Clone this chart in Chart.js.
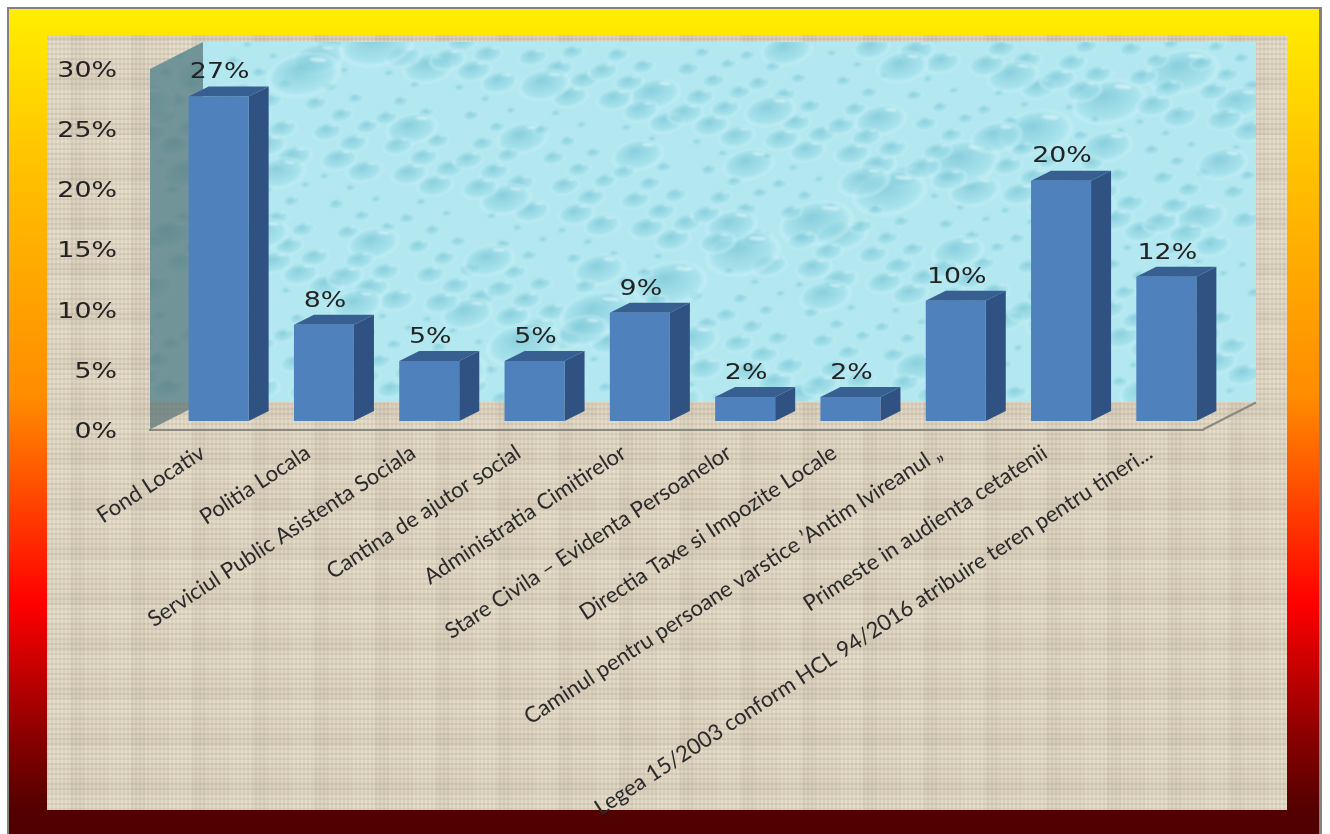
<!DOCTYPE html>
<html>
<head>
<meta charset="utf-8">
<title>Chart</title>
<script src="https://cdn.jsdelivr.net/npm/chart.js@4"></script>
<style>
  html, body { margin: 0; padding: 0; background: #fff; overflow: hidden; }
  #frame {
    position: absolute; left: 7px; top: 7px; width: 1315px; height: 827px;
    border: solid #85817c; border-width: 2px 3px 0 2px; box-sizing: border-box;
    background: linear-gradient(to bottom, #ffee00 0, #ffc000 20%, #ff8c00 47%, #ff0000 72%, #8c0000 88%, #540000 97%, #500000 100%);
  }
  #panel {
    position: absolute; left: 47px; top: 35px; width: 1240px; height: 775px;
    background-color: #e0d6c3;
    background-image:
      repeating-linear-gradient(90deg, rgba(120,110,90,.09) 0 2px, transparent 2px 4px),
      repeating-linear-gradient(0deg, rgba(120,110,90,.11) 0 2px, transparent 2px 5px),
      repeating-linear-gradient(90deg, rgba(255,250,235,.10) 0 23px, rgba(110,100,85,.04) 23px 37px, transparent 37px 61px),
      repeating-linear-gradient(0deg, rgba(255,250,235,.10) 0 17px, rgba(110,100,85,.04) 17px 29px, transparent 29px 47px);
  }
  #myChart { position: absolute; left: 0; top: 0; }
</style>
</head>
<body>
<div id="frame"></div>
<div id="panel"></div>
<canvas id="myChart" width="1330" height="834"></canvas>
<script>
const categorii = [
  "Fond Locativ",
  "Politia Locala",
  "Serviciul Public Asistenta Sociala",
  "Cantina de ajutor social",
  "Administratia Cimitirelor",
  "Stare Civila – Evidenta Persoanelor",
  "Directia Taxe si Impozite Locale",
  "Caminul pentru persoane varstice ’Antim Ivireanul „",
  "Primeste in audienta cetatenii",
  "Legea 15/2003 conform HCL 94/2016 atribuire teren pentru tineri...",
];
const valori = [27, 8, 5, 5, 9, 2, 2, 10, 20, 12];
const tickuriY = [0, 5, 10, 15, 20, 25, 30];

// adancimea podelei si a coloanelor, in pixeli
const podea = { dx: 53, dy: -27 };
const adancime = { dx: 20, dy: -10 };
const mutare = { dx: 16, dy: -8.5 };
// textul valorilor e intins pe orizontala, ca in original
const intindere = 1.22;

/*------------------------------------------
Textura de picaturi pentru peretele din spate
-------------------------------------------*/
function texturaPicaturi(w, h) {
  const c = document.createElement("canvas");
  c.width = w;
  c.height = h;
  const g = c.getContext("2d");
  g.fillStyle = "#b3e8f0";
  g.fillRect(0, 0, w, h);
  g.filter = "blur(1.2px)";
  for (let i = 1; i <= 520; i++) {
    const x = ((i * 0.7548777) % 1) * w;
    const y = ((i * 0.5698403) % 1) * h;
    let rx = 6 + (i % 5) * 3.5;
    if (i % 11 === 0) rx = 28;
    if (i % 37 === 0) rx = 40;
    const ry = rx * 0.58;
    g.save();
    g.translate(x, y);
    g.rotate(-0.2);
    g.scale(1, ry / rx);
    const grad = g.createRadialGradient(-rx * 0.1, -rx * 0.35, rx * 0.05, 0, 0, rx);
    grad.addColorStop(0, "rgba(112,190,208,0.6)");
    grad.addColorStop(0.7, "rgba(150,218,230,0.45)");
    grad.addColorStop(0.9, "rgba(205,242,247,0.55)");
    grad.addColorStop(1, "rgba(190,235,243,0)");
    g.fillStyle = grad;
    g.beginPath();
    g.arc(0, 0, rx, 0, Math.PI * 2);
    g.fill();
    g.fillStyle = "rgba(232,250,252,0.6)";
    g.beginPath();
    g.ellipse(rx * 0.42, -rx * 0.55, rx * 0.24, rx * 0.09, 0.5, 0, Math.PI * 2);
    g.fill();
    g.restore();
  }
  return c;
}

/*------------------------------------------
Peretii si podeaua, inainte de coloane
-------------------------------------------*/
const pereti = {
  id: "pereti",
  beforeDatasetsDraw(chart) {
    const { ctx, chartArea: a } = chart;
    const xS = a.left + podea.dx;
    const xD = a.right + podea.dx;
    const yS = a.top + podea.dy;
    const yJ = a.bottom + podea.dy;
    if (!pereti.tex) pereti.tex = texturaPicaturi(xD - xS, yJ - yS);

    ctx.save();
    ctx.drawImage(pereti.tex, xS, yS);
    // peretele din stanga
    ctx.beginPath();
    ctx.moveTo(a.left, a.top);
    ctx.lineTo(xS, yS);
    ctx.lineTo(xS, yJ);
    ctx.lineTo(a.left, a.bottom);
    ctx.closePath();
    ctx.save();
    ctx.clip();
    ctx.drawImage(pereti.tex, a.left - 40, yS);
    ctx.restore();
    ctx.fillStyle = "rgba(88,115,118,0.72)";
    ctx.fill();
    // marginea dreapta a podelei
    ctx.strokeStyle = "#8b8a80";
    ctx.lineWidth = 2;
    ctx.beginPath();
    ctx.moveTo(a.right, a.bottom);
    ctx.lineTo(xD, yJ);
    ctx.stroke();
    ctx.restore();
  },
};

/*------------------------------------------
Fetele 3D ale coloanelor si etichetele de valori
-------------------------------------------*/
const coloane3d = {
  id: "coloane3d",
  beforeDatasetsDraw(chart) {
    const { ctx } = chart;
    ctx.save();
    ctx.translate(mutare.dx, mutare.dy);
    chart.getDatasetMeta(0).data.forEach((bar) => {
      const st = bar.x - bar.width / 2;
      const dr = bar.x + bar.width / 2;
      // fata laterala
      ctx.fillStyle = "#2f5283";
      ctx.beginPath();
      ctx.moveTo(dr, bar.y);
      ctx.lineTo(dr + adancime.dx, bar.y + adancime.dy);
      ctx.lineTo(dr + adancime.dx, bar.base + adancime.dy);
      ctx.lineTo(dr, bar.base);
      ctx.closePath();
      ctx.fill();
      // fata de sus
      ctx.fillStyle = "#385f92";
      ctx.beginPath();
      ctx.moveTo(st, bar.y);
      ctx.lineTo(st + adancime.dx, bar.y + adancime.dy);
      ctx.lineTo(dr + adancime.dx, bar.y + adancime.dy);
      ctx.lineTo(dr, bar.y);
      ctx.closePath();
      ctx.fill();
    });
  },
  afterDatasetsDraw(chart) {
    const { ctx } = chart;
    ctx.restore();
    ctx.save();
    ctx.font = '22px "DejaVu Sans"';
    ctx.fillStyle = "#222";
    ctx.textAlign = "center";
    ctx.textBaseline = "middle";
    chart.getDatasetMeta(0).data.forEach((bar, i) => {
      const x = bar.x + mutare.dx + 1;
      ctx.save();
      ctx.translate(x, bar.y + mutare.dy - 24);
      ctx.scale(intindere, 1);
      ctx.fillText(valori[i] + "%", 0, 0);
      ctx.restore();
    });
    ctx.restore();

    // etichetele axei Y (z: 1) se deseneaza imediat dupa acest hook
    const yLabels = chart.chartArea.left - chart.options.scales.y.ticks.padding;
    ctx.save();
    ctx.translate(yLabels, 2.5);
    ctx.scale(intindere, 1);
    ctx.translate(-yLabels, 0);
  },
  afterDraw(chart) {
    chart.ctx.restore();
  },
};

const myChart = new Chart(document.getElementById("myChart").getContext("2d"), {
  type: "bar",
  data: {
    labels: categorii,
    datasets: [
      {
        data: valori,
        backgroundColor: "#4f81bd",
        barPercentage: 0.57,
        categoryPercentage: 1,
      },
    ],
  },
  plugins: [pereti, coloane3d],
  options: {
    responsive: false,
    animation: false,
    layout: { padding: { left: 0, right: 127, top: 69, bottom: 0 } },
    plugins: {
      legend: { display: false },
      tooltip: { enabled: false },
    },
    scales: {
      x: {
        grid: { display: false, drawTicks: false },
        border: { color: "#8b8a80", width: 2 },
        ticks: {
          autoSkip: false,
          minRotation: 33,
          maxRotation: 33,
          padding: 10,
          color: "#2a2a2a",
          font: { family: "Lato", size: 22 },
        },
        afterFit(s) {
          s.height = 404.5;
          s.paddingLeft = 0;
          s.paddingRight = 0;
        },
      },
      y: {
        min: 0,
        max: 30,
        afterBuildTicks(s) {
          s.ticks = tickuriY.map((v) => ({ value: v }));
        },
        grid: { display: false, drawTicks: false },
        border: { display: false },
        ticks: {
          z: 1,
          padding: 33,
          color: "#222",
          font: { family: "DejaVu Sans", size: 22 },
          callback: (v) => v + "%",
        },
        afterFit(s) {
          s.width = 150;
        },
      },
    },
  },
});
</script>
</body>
</html>
